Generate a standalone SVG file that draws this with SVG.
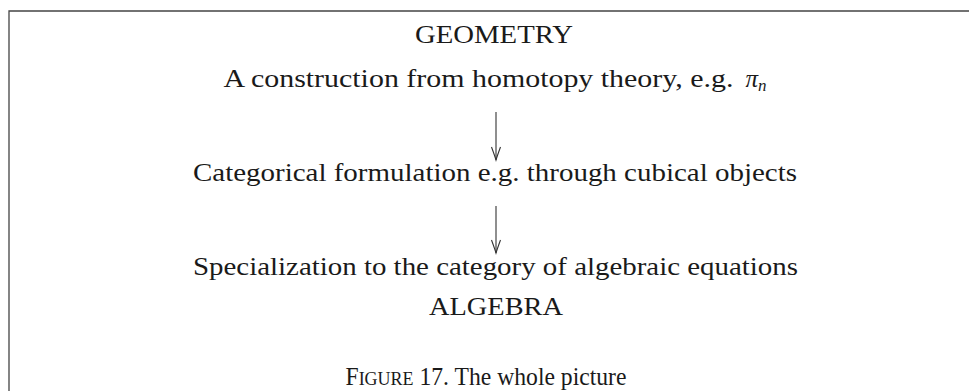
<svg xmlns="http://www.w3.org/2000/svg" width="969" height="391" viewBox="0 0 969 391">
<defs>
<style>
.t{font-family:"Liberation Serif","DejaVu Serif",serif;font-size:25px;fill:#1a1a1a;text-anchor:middle}
.c{stroke:#333;stroke-width:1.1;fill:none}
.frame{stroke:#444;stroke-width:1.3;fill:none}
</style>
<marker id="ah" viewBox="-14 -6 16 12" markerWidth="16" markerHeight="12" refX="0" refY="0" orient="auto" markerUnits="userSpaceOnUse">
<path d="M-13,-4.5 Q-4,-1.2 0,0 Q-4,1.2 -13,4.5" stroke="#333" stroke-width="1.1" fill="none"/>
</marker>
</defs>
<rect width="969" height="391" fill="#fff"/>
<path class="frame" d="M9,391 V11 H969"/>
<g id="geometry"><text class="t" x="494" y="43" textLength="158" lengthAdjust="spacingAndGlyphs">GEOMETRY</text></g>
<g id="construction"><text class="t" x="495" y="87" text-anchor="middle"><tspan textLength="510" lengthAdjust="spacingAndGlyphs">A construction from homotopy theory, e.g.</tspan><tspan dx="12" font-style="italic">π</tspan><tspan font-style="italic" font-size="17" dy="4">n</tspan></text></g>
<g id="categorical"><text class="t" x="495" y="181" textLength="604" lengthAdjust="spacingAndGlyphs">Categorical formulation e.g. through cubical objects</text></g>
<g id="specialization"><text class="t" x="495.5" y="275" textLength="605" lengthAdjust="spacingAndGlyphs">Specialization to the category of algebraic equations</text></g>
<g id="algebra"><text class="t" x="496" y="315" textLength="134" lengthAdjust="spacingAndGlyphs">ALGEBRA</text></g>
<g id="connectors">
<line class="c" x1="496" y1="112" x2="496" y2="160" marker-end="url(#ah)"/>
<line class="c" x1="496" y1="206" x2="496" y2="253" marker-end="url(#ah)"/>
</g>
<text class="t" x="486" y="385" textLength="281" lengthAdjust="spacingAndGlyphs">F<tspan font-size="19">IGURE</tspan> 17.  The whole picture</text>
</svg>
